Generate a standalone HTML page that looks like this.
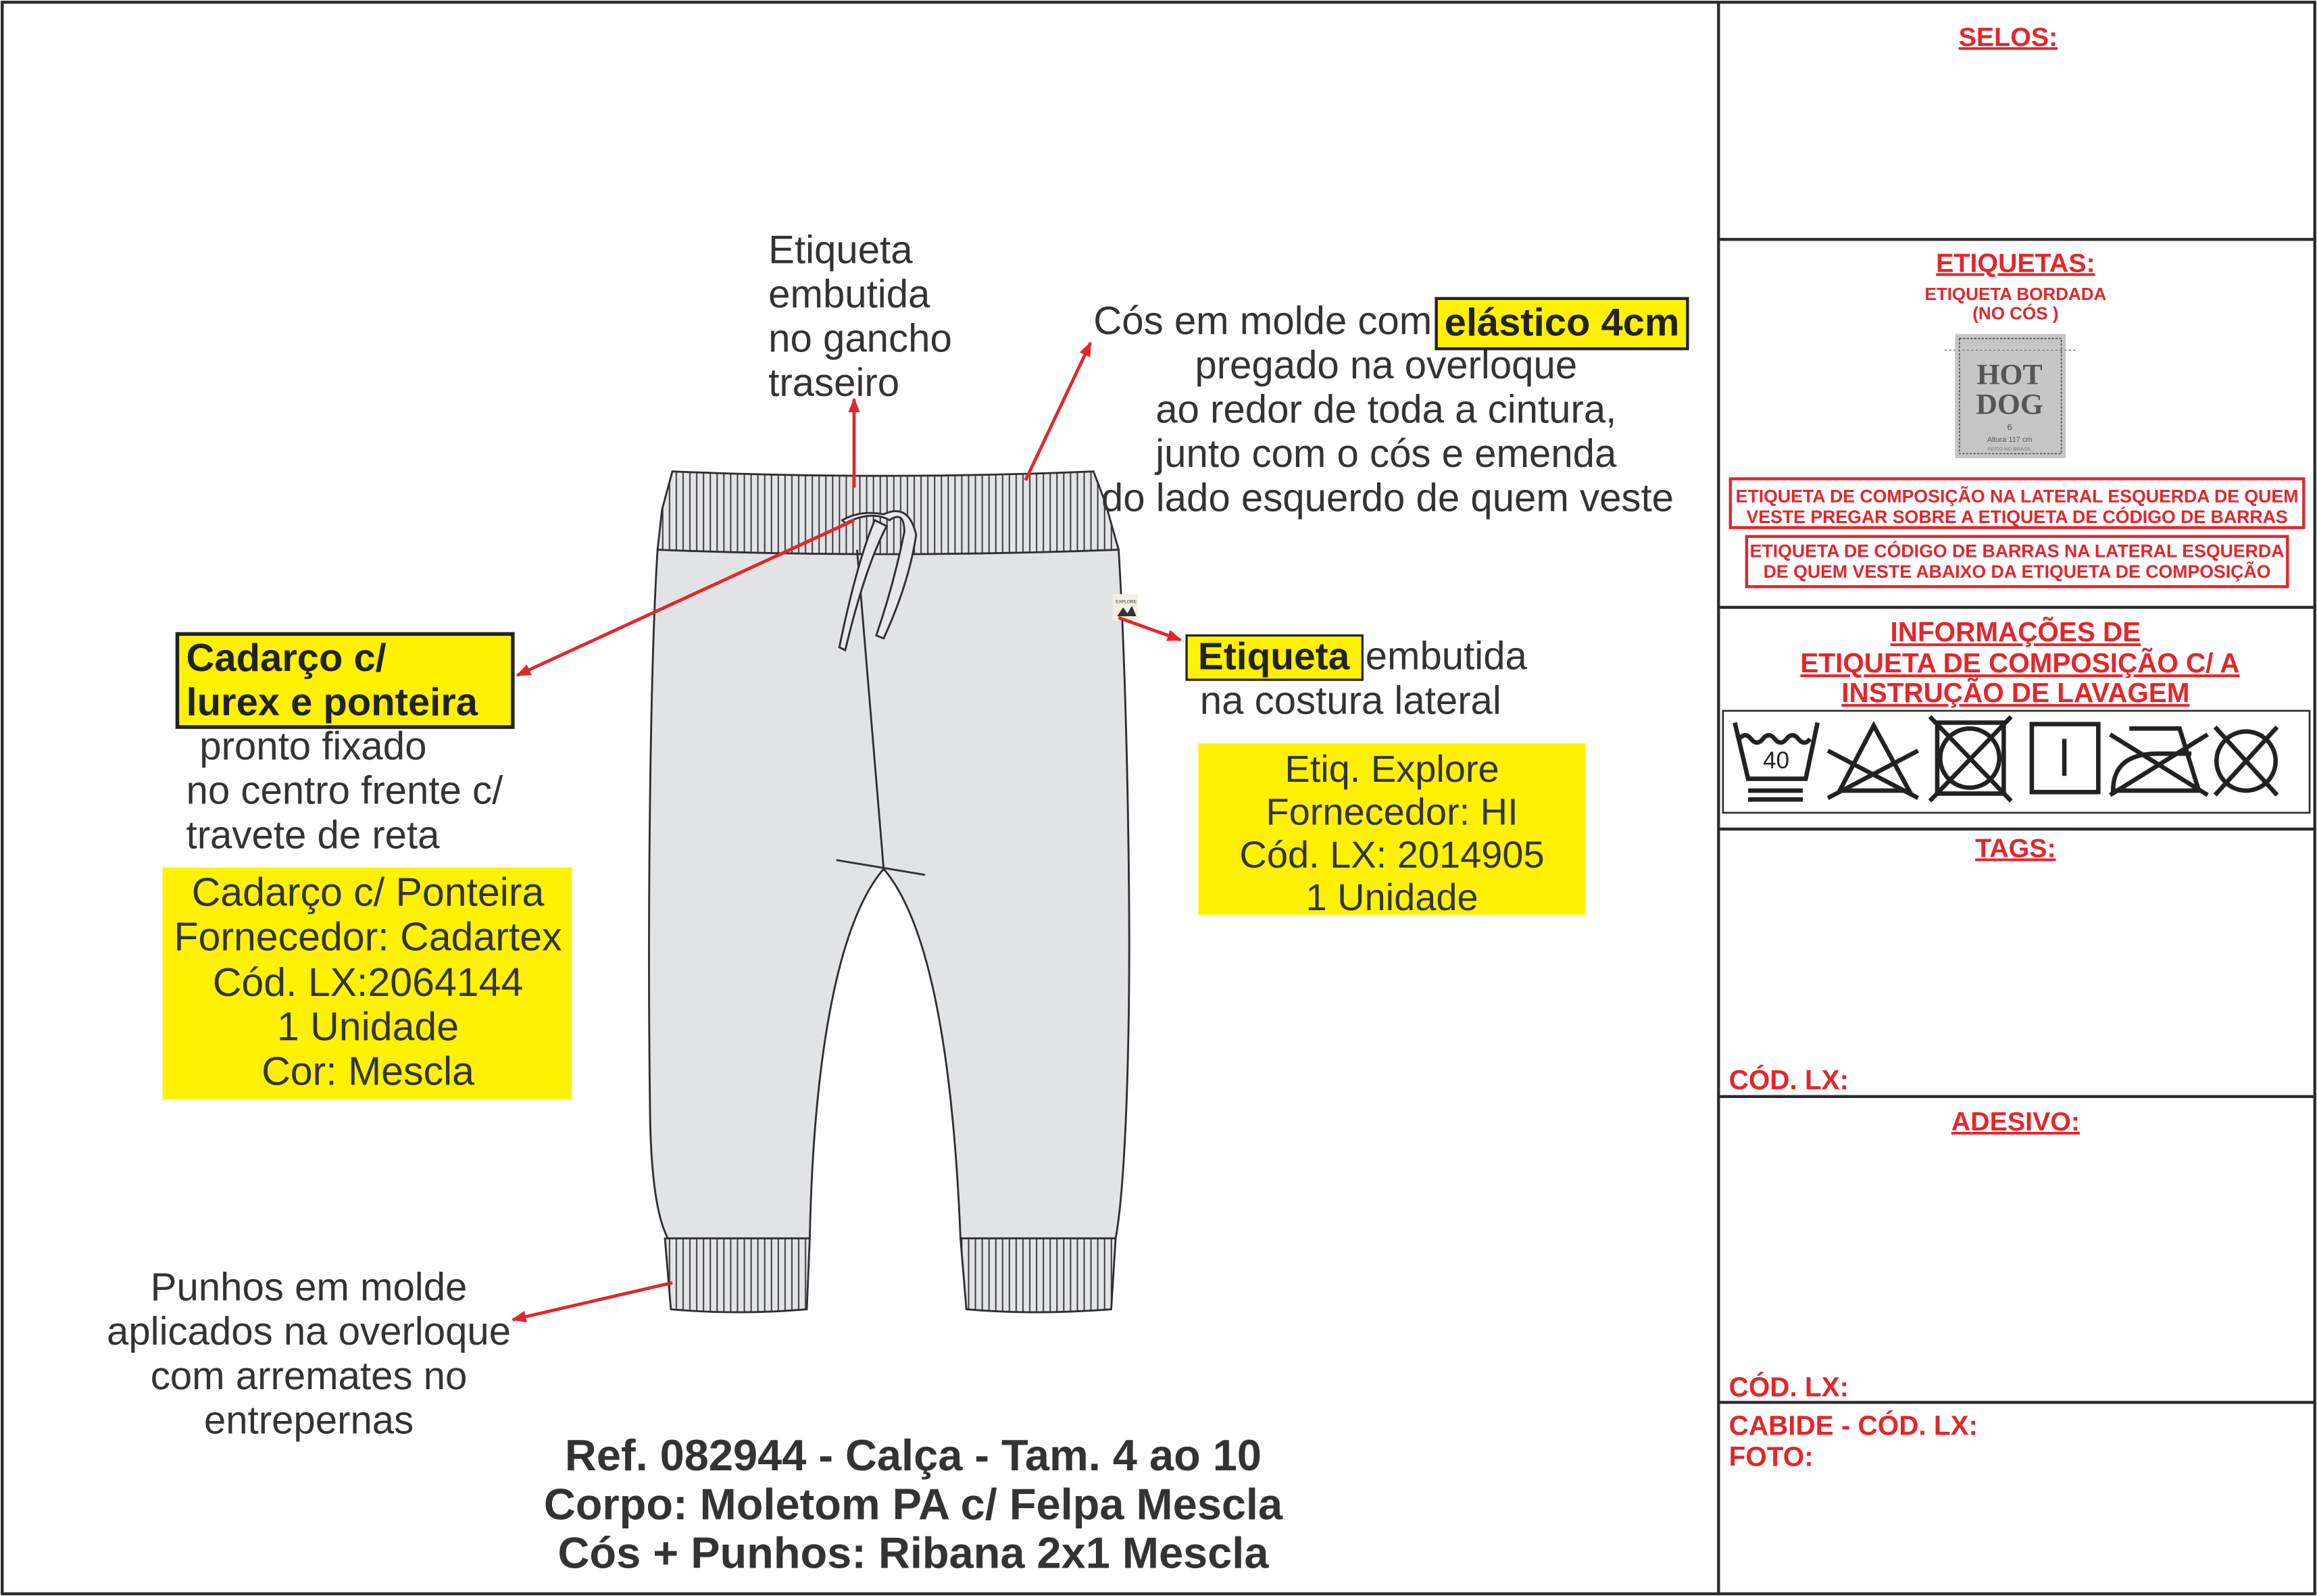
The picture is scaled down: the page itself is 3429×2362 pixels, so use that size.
<!DOCTYPE html>
<html><head><meta charset="utf-8"><style>html,body{margin:0;padding:0;background:#fff}svg{display:block}</style></head><body>
<svg width="3429" height="2362" viewBox="0 0 1568 1080" preserveAspectRatio="none" xmlns="http://www.w3.org/2000/svg" font-family="Liberation Sans, Arial, sans-serif">
<defs>
<pattern id="rib" width="4.6" height="10" patternUnits="userSpaceOnUse"><rect width="4.6" height="10" fill="#e3e4e6"/><line x1="2.3" y1="0" x2="2.3" y2="10" stroke="#3a3a3e" stroke-width="0.9"/></pattern>
<marker id="ah" markerWidth="10" markerHeight="8" refX="9" refY="4" orient="auto" markerUnits="userSpaceOnUse"><path d="M0,0 L10,4 L0,8 Z" fill="#e3262c"/></marker>
</defs>
<rect x="1.5" y="1.5" width="1565" height="1077" fill="#fff" stroke="#2b2b2b" stroke-width="2"/>
<line x1="1163" y1="1" x2="1163" y2="1079" stroke="#2b2b2b" stroke-width="2"/>
<g stroke="#2b2b2b" stroke-width="2">
<line x1="1163" y1="162" x2="1567" y2="162"/><line x1="1163" y1="411" x2="1567" y2="411"/>
<line x1="1163" y1="561" x2="1567" y2="561"/><line x1="1163" y1="742" x2="1567" y2="742"/>
<line x1="1163" y1="949" x2="1567" y2="949"/></g>

<!-- pants -->
<g stroke="#2e2e33" stroke-width="1.3">
<path d="M445,372 C440,450 438,620 440,760 C441,800 445,825 452,838 L548,838 C550,740 562,630 598,588 C634,630 646,740 650,838 L755,838 C762,800 765,700 764,600 C763,500 760,420 757,372 Z" fill="#e2e3e5"/>
<path d="M455,319 Q598,325 740,319 L748,340 L757,372 Q598,378 445,372 L448,345 Z" fill="url(#rib)"/>
<path d="M450,838 L548,838 L546,886 Q500,890 454,886 Z" fill="url(#rib)"/>
<path d="M650,838 L755,838 L752,886 Q700,890 654,886 Z" fill="url(#rib)"/>
<path d="M580,372 L598,588" fill="none"/>
<path d="M566,582 L626,592" fill="none"/>
<path d="M572,354 Q590,345 602,352 Q612,345 612,360 Q605,395 593,430 L598,432 Q615,395 620,362 Q615,340 598,348 Q582,345 570,352 Z" fill="#e8e8ea"/>
<path d="M592,352 Q580,380 568,438 L572,440 Q585,385 600,356 Z" fill="#e8e8ea"/>
<rect x="753" y="402" width="17" height="18" fill="#f3efe2" stroke="none"/>
</g>
<text x="755" y="408" font-size="3" fill="#333">EXPLORE</text>
<path d="M756,417 L760,411 L763,415 L766,410 L769,417 Z" fill="#333"/>

<!-- arrows -->
<g stroke="#e3262c" stroke-width="2.2" fill="none">
<line x1="578" y1="330" x2="578" y2="270" marker-end="url(#ah)"/>
<line x1="694" y1="325" x2="738" y2="232" marker-end="url(#ah)"/>
<line x1="578" y1="352" x2="350" y2="457" marker-end="url(#ah)"/>
<line x1="757" y1="418" x2="799" y2="433" marker-end="url(#ah)"/>
<line x1="455" y1="868" x2="347" y2="893" marker-end="url(#ah)"/>
</g>

<g fill="#333" font-size="26.6">
<text x="520" y="178">Etiqueta</text><text x="520" y="208">embutida</text><text x="520" y="238">no gancho</text><text x="520" y="268">traseiro</text>
<text x="740" y="226">Cós em molde com</text>
<text x="938" y="256" text-anchor="middle">pregado na overloque</text>
<text x="938" y="286" text-anchor="middle">ao redor de toda a cintura,</text>
<text x="938" y="316" text-anchor="middle">junto com o cós e emenda</text>
<text x="939" y="346" text-anchor="middle">do lado esquerdo de quem veste</text>
<text x="135" y="514">pronto fixado</text><text x="126" y="544">no centro frente c/</text><text x="126" y="574">travete de reta</text>
<text x="924" y="453">embutida</text><text x="812" y="483">na costura lateral</text>
<text x="209" y="880" text-anchor="middle">Punhos em molde</text>
<text x="209" y="910" text-anchor="middle">aplicados na overloque</text>
<text x="209" y="940" text-anchor="middle">com arremates no</text>
<text x="209" y="970" text-anchor="middle">entrepernas</text>
</g>
<rect x="972" y="202" width="170" height="34" fill="#fff200" stroke="#222" stroke-width="2"/>
<text x="1057" y="227" font-size="26.5" font-weight="bold" fill="#222" text-anchor="middle">elástico 4cm</text>
<rect x="120" y="429" width="227" height="63" fill="#fff200" stroke="#222" stroke-width="2.5"/>
<text x="126" y="454" font-size="26.5" font-weight="bold" fill="#222">Cadarço c/</text>
<text x="126" y="484" font-size="26.5" font-weight="bold" fill="#222">lurex e ponteira</text>
<rect x="803" y="430" width="119" height="30" fill="#fff200" stroke="#222" stroke-width="1.5"/>
<text x="862" y="453" font-size="26" font-weight="bold" fill="#222" text-anchor="middle">Etiqueta</text>

<rect x="110" y="587" width="277" height="157" fill="#fff200"/>
<g fill="#333" font-size="27" text-anchor="middle">
<text x="249" y="613">Cadarço c/ Ponteira</text><text x="249" y="643">Fornecedor: Cadartex</text>
<text x="249" y="674">Cód. LX:2064144</text><text x="249" y="704">1 Unidade</text><text x="249" y="734">Cor: Mescla</text>
</g>
<rect x="811" y="503" width="262" height="116" fill="#fff200"/>
<g fill="#333" font-size="25.6" text-anchor="middle">
<text x="942" y="529">Etiq. Explore</text><text x="942" y="558">Fornecedor: HI</text>
<text x="942" y="587">Cód. LX: 2014905</text><text x="942" y="616">1 Unidade</text>
</g>
<g fill="#333" font-size="29.7" font-weight="bold" text-anchor="middle">
<text x="618" y="995">Ref. 082944 - Calça - Tam. 4 ao 10</text>
<text x="618" y="1028">Corpo: Moletom PA c/ Felpa Mescla</text>
<text x="618" y="1061">Cós + Punhos: Ribana 2x1 Mescla</text>
</g>

<!-- right panel -->
<g fill="#e3262c" font-weight="bold" text-anchor="middle">
<text x="1359" y="31" font-size="18" text-decoration="underline">SELOS:</text>
<text x="1364" y="184" font-size="18" text-decoration="underline">ETIQUETAS:</text>
<text x="1364" y="203" font-size="11.9">ETIQUETA BORDADA</text>
<text x="1364" y="216" font-size="11.9">(NO CÓS )</text>
<text x="1364" y="434" font-size="18.5" text-decoration="underline">INFORMAÇÕES DE</text>
<text x="1367" y="455" font-size="18.5" text-decoration="underline">ETIQUETA DE COMPOSIÇÃO C/ A</text>
<text x="1364" y="475" font-size="18.5" text-decoration="underline">INSTRUÇÃO DE LAVAGEM</text>
<text x="1364" y="580" font-size="18" text-decoration="underline">TAGS:</text>
<text x="1364" y="765" font-size="18" text-decoration="underline">ADESIVO:</text>
<text x="1365" y="340" font-size="12.2">ETIQUETA DE COMPOSIÇÃO NA LATERAL ESQUERDA DE QUEM</text>
<text x="1365" y="354" font-size="12.2">VESTE PREGAR SOBRE A ETIQUETA DE CÓDIGO DE BARRAS</text>
<text x="1365" y="377" font-size="12.2">ETIQUETA DE CÓDIGO DE BARRAS NA LATERAL ESQUERDA</text>
<text x="1365" y="391" font-size="12.2">DE QUEM VESTE ABAIXO DA ETIQUETA DE COMPOSIÇÃO</text>
</g>
<g fill="#e3262c" font-weight="bold" font-size="18.5">
<text x="1170" y="737">CÓD. LX:</text><text x="1170" y="945">CÓD. LX:</text>
<text x="1170" y="971">CABIDE - CÓD. LX:</text><text x="1170" y="992">FOTO:</text>
</g>
<rect x="1171" y="324" width="388" height="33" fill="none" stroke="#e3262c" stroke-width="2"/>
<rect x="1182" y="363" width="366" height="34" fill="none" stroke="#e3262c" stroke-width="2"/>

<rect x="1323" y="226" width="75" height="84" fill="#c6c6c6"/>
<rect x="1326" y="229" width="69" height="78" fill="none" stroke="#555" stroke-width="0.8" stroke-dasharray="1.5,1"/>
<line x1="1316" y1="237" x2="1405" y2="237" stroke="#777" stroke-width="0.6" stroke-dasharray="1.5,1.5"/>
<text x="1360" y="260" font-size="20" font-weight="bold" fill="#555" text-anchor="middle" font-family="Liberation Serif, serif">HOT</text>
<text x="1360" y="280" font-size="20" font-weight="bold" fill="#555" text-anchor="middle" font-family="Liberation Serif, serif">DOG</text>
<text x="1360" y="291" font-size="6" fill="#555" text-anchor="middle">6</text>
<text x="1360" y="299" font-size="5" fill="#555" text-anchor="middle">Altura 117 cm</text>
<text x="1360" y="305" font-size="3.5" fill="#777" text-anchor="middle">FEITO NO BRASIL</text>

<rect x="1166" y="481" width="397" height="69" fill="none" stroke="#2b2b2b" stroke-width="1.2"/>
<g stroke="#222" stroke-width="3" fill="none">
<path d="M1174,489 L1183,527 L1222,527 L1230,489"/>
<path d="M1177,500 q4,-5 8,0 q4,5 8,0 q4,-5 8,0 q4,5 8,0 q4,-5 8,0 q4,5 8,0"/>
<line x1="1183" y1="535" x2="1220" y2="535"/><line x1="1183" y1="541" x2="1220" y2="541"/>
<path d="M1268,491 L1245,535 L1292,535 Z"/>
<line x1="1237" y1="508" x2="1298" y2="540"/><line x1="1237" y1="540" x2="1298" y2="508"/>
<rect x="1311" y="489" width="45" height="48"/>
<circle cx="1333" cy="513" r="20"/>
<line x1="1306" y1="485" x2="1361" y2="542"/><line x1="1306" y1="542" x2="1361" y2="485"/>
<rect x="1375" y="490" width="45" height="46"/>
<line x1="1397" y1="500" x2="1397" y2="525"/>
<path d="M1441,493 L1475,493 L1488,535 L1430,535 Q1430,510 1460,510 L1483,510"/>
<line x1="1428" y1="497" x2="1494" y2="538"/><line x1="1428" y1="538" x2="1494" y2="497"/>
<circle cx="1520" cy="515" r="20"/>
<line x1="1499" y1="492" x2="1541" y2="538"/><line x1="1499" y1="538" x2="1541" y2="492"/>
</g>
<text x="1202" y="520" font-size="16" fill="#222" text-anchor="middle">40</text>
</svg>
</body></html>
